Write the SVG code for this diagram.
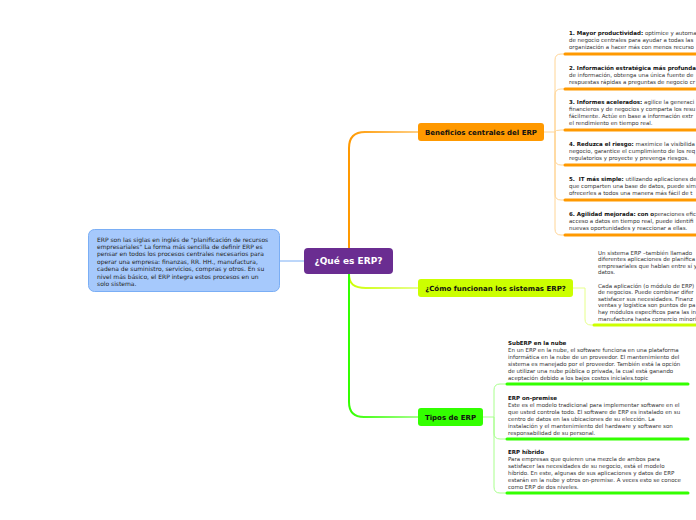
<svg xmlns="http://www.w3.org/2000/svg" width="696" height="520" viewBox="0 0 696 520">
<style>
text{font-family:"DejaVu Sans","Verdana",sans-serif;}
.t{font-size:5.5px;fill:#333;}
.b{font-weight:bold;fill:#111;}
.box{font-size:6px;fill:#222;}
.lbl{font-size:7px;font-weight:bold;fill:#111;text-anchor:middle;}
.thinO{fill:none;stroke:#ffd596;stroke-width:1;}
.thinY{fill:none;stroke:#e6ff8a;stroke-width:1;}
.thinG{fill:none;stroke:#a8ff8c;stroke-width:1;}
.ulO{stroke:#ff9900;stroke-width:3;stroke-linecap:round;}
.ulY{stroke:#ccff00;stroke-width:3;stroke-linecap:round;}
.ulG{stroke:#33ff00;stroke-width:3;stroke-linecap:round;}
</style>
<defs>
<linearGradient id="gO" gradientUnits="userSpaceOnUse" x1="349" y1="0" x2="418" y2="0"><stop offset="0" stop-color="#ff9900"/><stop offset="1" stop-color="#ffcf85"/></linearGradient>
<linearGradient id="gY" gradientUnits="userSpaceOnUse" x1="349" y1="0" x2="418" y2="0"><stop offset="0" stop-color="#ccff00"/><stop offset="1" stop-color="#e8ff90"/></linearGradient>
<linearGradient id="gG" gradientUnits="userSpaceOnUse" x1="349" y1="0" x2="418" y2="0"><stop offset="0" stop-color="#33ff00"/><stop offset="1" stop-color="#a6ff8c"/></linearGradient>
</defs>
<rect width="696" height="520" fill="#ffffff"/>

<g id="connectors">
<line x1="279" y1="261" x2="304" y2="261" stroke="#7aaef5" stroke-width="1"/>
<path d="M349,248 L349,148 Q349,132 365,132 L418,132" fill="none" stroke="url(#gO)" stroke-width="2"/>
<path d="M349,274 C349,284 354,288 366,288 L418,288" fill="none" stroke="url(#gY)" stroke-width="2"/>
<path d="M349,274 L349,402 Q349,417 364,417 L418,417" fill="none" stroke="url(#gG)" stroke-width="2"/>
<path class="thinO" d="M544,132 H555 V60 Q555,54 561,54 H564"/>
<path class="thinO" d="M555,132 V95 Q555,89 561,89 H564"/>
<path class="thinO" d="M555,132 Q555,130 561,130 H564"/>
<path class="thinO" d="M555,132 V159 Q555,165 561,165 H564"/>
<path class="thinO" d="M555,132 V194 Q555,200 561,200 H564"/>
<path class="thinO" d="M555,132 V229 Q555,235 561,235 H564"/>
<path class="thinY" d="M573,288 H585 V319 Q585,325 591,325 H594"/>
<path class="thinG" d="M483,417 H494 V390 Q494,384 500,384 H507"/>
<path class="thinG" d="M494,417 V433 Q494,439 500,439 H507"/>
<path class="thinG" d="M494,417 V487 Q494,493 500,493 H507"/>
</g>

<g id="intro">
<rect x="88.5" y="229.5" width="191" height="62" rx="6" fill="#a6c9fc" stroke="#7aaef5" stroke-width="1"/>
<text class="box" x="97" y="241.5">ERP son las siglas en inglés de "planificación de recursos</text>
<text class="box" x="97" y="248.9">empresariales" La forma más sencilla de definir ERP es</text>
<text class="box" x="97" y="256.3">pensar en todos los procesos centrales necesarios para</text>
<text class="box" x="97" y="263.7">operar una empresa: finanzas, RR. HH., manufactura,</text>
<text class="box" x="97" y="271.1">cadena de suministro, servicios, compras y otros. En su</text>
<text class="box" x="97" y="278.5">nivel más básico, el ERP integra estos procesos en un</text>
<text class="box" x="97" y="285.9">solo sistema.</text>
</g>

<g id="root">
<rect x="304" y="248" width="89" height="26" rx="4" fill="#6a2d91"/>
<text x="348.5" y="264.3" font-size="9" font-weight="bold" fill="#ffffff" text-anchor="middle">¿Qué es ERP?</text>
</g>

<g id="beneficios">
<rect x="418" y="123" width="126" height="18" rx="3" fill="#ff9900"/>
<text class="lbl" x="481" y="134.6">Beneficios centrales del ERP</text>
</g>

<g id="como">
<rect x="418" y="279" width="155" height="18" rx="3" fill="#ccff00"/>
<text class="lbl" x="495.5" y="290.6">¿Cómo funcionan los sistemas ERP?</text>
</g>

<g id="tipos">
<rect x="418" y="408" width="65" height="18" rx="3" fill="#33ff00"/>
<text class="lbl" x="450.5" y="419.6">Tipos de ERP</text>
</g>

<g id="b1">
<text class="t" x="569" y="34.5"><tspan class="b">1. Mayor productividad:</tspan> optimice y automa</text>
<text class="t" x="569" y="41.5">de negocio centrales para ayudar a todas las</text>
<text class="t" x="569" y="48.5">organización a hacer más con menos recurso</text>
<line class="ulO" x1="565" y1="54" x2="700" y2="54"/>
</g>
<g id="b2">
<text class="t" x="569" y="69.5"><tspan class="b">2. Información estratégica más profunda</tspan></text>
<text class="t" x="569" y="76.5">de información, obtenga una única fuente de</text>
<text class="t" x="569" y="83.5">respuestas rápidas a preguntas de negocio cr</text>
<line class="ulO" x1="565" y1="89" x2="700" y2="89"/>
</g>
<g id="b3">
<text class="t" x="569" y="103.5"><tspan class="b">3. Informes acelerados:</tspan> agilice la generaci</text>
<text class="t" x="569" y="110.5">financieros y de negocios y comparta los resu</text>
<text class="t" x="569" y="117.5">fácilmente. Actúe en base a información extr</text>
<text class="t" x="569" y="124.5">el rendimiento en tiempo real.</text>
<line class="ulO" x1="565" y1="130" x2="700" y2="130"/>
</g>
<g id="b4">
<text class="t" x="569" y="145.5"><tspan class="b">4. Reduzca el riesgo:</tspan> maximice la visibilida</text>
<text class="t" x="569" y="152.5">negocio, garantice el cumplimiento de los req</text>
<text class="t" x="569" y="159.5">regulatorios y proyecte y prevenga riesgos.</text>
<line class="ulO" x1="565" y1="165" x2="700" y2="165"/>
</g>
<g id="b5">
<text class="t" x="569" y="180.5"><tspan class="b">5.&#160; IT más simple:</tspan> utilizando aplicaciones de</text>
<text class="t" x="569" y="187.5">que comparten una base de datos, puede sim</text>
<text class="t" x="569" y="194.5">ofrecerles a todos una manera más fácil de t</text>
<line class="ulO" x1="565" y1="200" x2="700" y2="200"/>
</g>
<g id="b6">
<text class="t" x="569" y="215.5"><tspan class="b">6. Agilidad mejorada: con o</tspan>peraciones efic</text>
<text class="t" x="569" y="222.5">acceso a datos en tiempo real, puede identifi</text>
<text class="t" x="569" y="229.5">nuevas oportunidades y reaccionar a ellas.</text>
<line class="ulO" x1="565" y1="235" x2="700" y2="235"/>
</g>

<g id="c1">
<text class="t" x="598" y="254.5">Un sistema ERP –también llamado</text>
<text class="t" x="598" y="261.1">diferentes aplicaciones de planifica</text>
<text class="t" x="598" y="267.7">empresariales que hablan entre sí y</text>
<text class="t" x="598" y="274.3">datos.</text>
<text class="t" x="598" y="287.5">Cada aplicación (o módulo de ERP)</text>
<text class="t" x="598" y="294.1">de negocios. Puede combinar difer</text>
<text class="t" x="598" y="300.7">satisfacer sus necesidades. Finanz</text>
<text class="t" x="598" y="307.3">ventas y logística son puntos de pa</text>
<text class="t" x="598" y="313.9">hay módulos específicos para las in</text>
<text class="t" x="598" y="320.5">manufactura hasta comercio minori</text>
<line class="ulY" x1="594" y1="325" x2="700" y2="325"/>
</g>

<g id="t1">
<text class="t b" x="508" y="345">SubERP en la nube</text>
<text class="t" x="508" y="351.9">En un ERP en la nube, el software funciona en una plataforma</text>
<text class="t" x="508" y="358.8">informática en la nube de un proveedor. El mantenimiento del</text>
<text class="t" x="508" y="365.7">sistema es manejado por el proveedor. También está la opción</text>
<text class="t" x="508" y="372.6">de utilizar una nube pública o privada, la cual está ganando</text>
<text class="t" x="508" y="379.5">aceptación debido a los bajos costos iniciales.topic</text>
<line class="ulG" x1="507" y1="384" x2="688" y2="384"/>
</g>
<g id="t2">
<text class="t b" x="508" y="400">ERP on-premise</text>
<text class="t" x="508" y="406.9">Este es el modelo tradicional para implementar software en el</text>
<text class="t" x="508" y="413.8">que usted controla todo. El software de ERP es instalado en su</text>
<text class="t" x="508" y="420.7">centro de datos en las ubicaciones de su elección. La</text>
<text class="t" x="508" y="427.6">instalación y el mantenimiento del hardware y software son</text>
<text class="t" x="508" y="434.5">responsabilidad de su personal.</text>
<line class="ulG" x1="507" y1="439" x2="688" y2="439"/>
</g>
<g id="t3">
<text class="t b" x="508" y="454">ERP híbrido</text>
<text class="t" x="508" y="460.9">Para empresas que quieren una mezcla de ambos para</text>
<text class="t" x="508" y="467.8">satisfacer las necesidades de su negocio, está el modelo</text>
<text class="t" x="508" y="474.7">híbrido. En este, algunas de sus aplicaciones y datos de ERP</text>
<text class="t" x="508" y="481.6">estarán en la nube y otros on-premise. A veces esto se conoce</text>
<text class="t" x="508" y="488.5">como ERP de dos niveles.</text>
<line class="ulG" x1="507" y1="493" x2="688" y2="493"/>
</g>
</svg>
